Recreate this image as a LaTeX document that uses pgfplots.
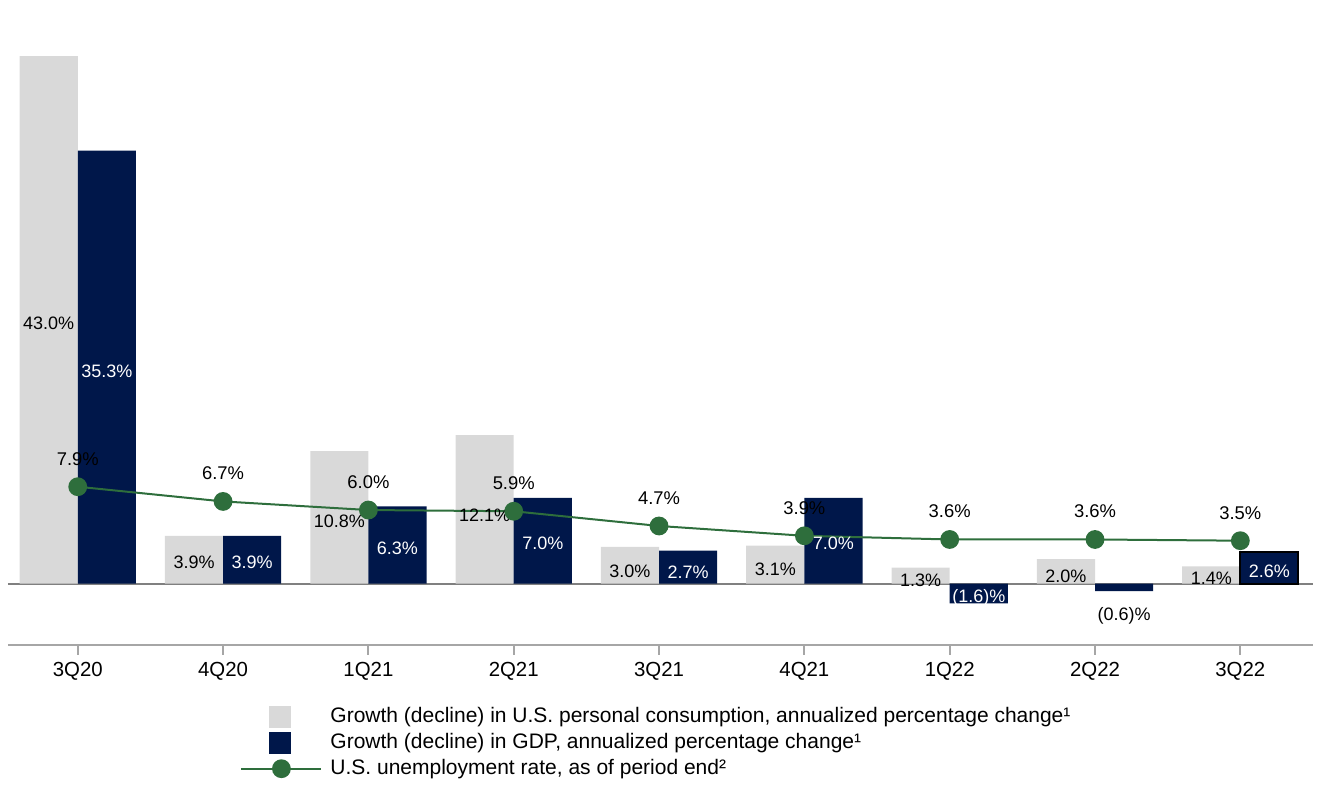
\documentclass[border=0pt]{standalone}
\usepackage{fontspec}
\setmainfont{Liberation Sans}
\usepackage{pgfplots}
\pgfplotsset{compat=1.18}
\usepackage{pgfplotstable}
\definecolor{cons}{HTML}{D9D9D9}
\definecolor{gdp}{HTML}{00174A}
\definecolor{unemp}{HTML}{2E6E3C}
\definecolor{zeroline}{HTML}{808080}
\definecolor{axisgray}{HTML}{A6A6A6}

\pgfplotstableread{
x cons gdp unemp
0 43.0 35.3 7.9
1 3.9 3.9 6.7
2 10.8 6.3 6.0
3 12.1 7.0 5.9
4 3.0 2.7 4.7
5 3.1 7.0 3.9
6 1.3 -1.6 3.6
7 2.0 -0.6 3.6
8 1.4 2.6 3.5
}\data

\begin{document}
\begin{tikzpicture}[font=\fontsize{9.5}{11.4}\selectfont]
\begin{axis}[
  scale only axis, width=652.5pt, height=322.5pt,
  xmin=-0.48, xmax=8.5, ymin=-5, ymax=47.57,
  axis x line=bottom, axis y line=none,
  axis line style={axisgray, line width=1pt, -},
  xtick={0,...,8},
  xticklabels={3Q20,4Q20,1Q21,2Q21,3Q21,4Q21,1Q22,2Q22,3Q22},
  xtick align=outside, major tick length=5pt,
  tick style={axisgray, line width=1pt},
  ytick=\empty,
  clip=false,
  x tick label style={font=\fontsize{10.2}{12}\selectfont},
  legend style={at={(rel axis cs:0.1778,-0.0946)}, anchor=north west,
    draw=none, fill=none, inner sep=0pt, row sep=2pt, column sep=4pt,
    font=\fontsize{10.5}{12.6}\selectfont,
    nodes={inner sep=0pt, text height=7.8pt, text depth=2.5pt}},
  legend cell align=left,
  lab/.style={draw=none, mark=none, forget plot, nodes near coords,
    point meta=explicit symbolic,
    every node near coord/.append style={anchor=center, inner sep=0pt,
      font=\fontsize{9}{10.8}\selectfont}},
]
\coordinate (SW) at (rel axis cs:0,0);
\coordinate (NE) at (rel axis cs:1,1);
\addplot[zeroline, line width=1pt, forget plot] coordinates {(-0.48,0) (8.5,0)};

\addplot[ybar, bar width=0.4, bar shift=0pt, fill=cons, draw=none,
  legend image code/.code={\path[draw=none, fill=none] (0pt,0pt) -- (40pt,0pt);
    \fill[cons] (14pt,-5.5pt) rectangle (25pt,5.5pt);}]
  table[x expr=\thisrow{x}-0.2, y=cons] {\data};
\addplot[ybar, bar width=0.4, bar shift=0pt, fill=gdp, draw=none,
  legend image code/.code={\path[draw=none, fill=none] (0pt,0pt) -- (40pt,0pt);
    \fill[gdp] (14pt,-5.5pt) rectangle (25pt,5.5pt);}]
  table[x expr=\thisrow{x}+0.2, y=gdp] {\data};
\addplot[ybar, bar width=0.4, bar shift=0pt, fill=gdp, draw=black, line width=1pt, forget plot]
  coordinates {(8.2,2.6)};

\addplot[lab, every node near coord/.append style={text=black}] coordinates {
  (-0.2,21.2) [43.0\%] (0.8,1.7) [3.9\%] (1.8,5.1) [10.8\%] (2.8,5.6) [12.1\%]
  (3.8,1.03) [3.0\%] (4.8,1.2) [3.1\%] (5.8,0.3) [1.3\%] (6.8,0.6) [2.0\%] (7.8,0.4) [1.4\%]};
\addplot[lab, every node near coord/.append style={text=white}] coordinates {
  (0.2,17.3) [35.3\%] (1.2,1.7) [3.9\%] (2.2,2.9) [6.3\%] (3.2,3.25) [7.0\%]
  (4.2,0.95) [2.7\%] (5.2,3.3) [7.0\%] (6.2,-1.17) [(1.6)\%] (8.2,1.03) [2.6\%]};
\addplot[lab, every node near coord/.append style={text=black}] coordinates {
  (7.2,-2.6) [(0.6)\%]};

\addplot[unemp, line width=1pt, mark=*, mark size=4.2pt,
  mark options={fill=unemp, draw=unemp},
  legend image code/.code={\draw[unemp, line width=1pt] (0pt,0pt) -- (40pt,0pt);
    \fill[unemp] (20pt,0pt) circle (4.2pt);}]
  table[x=x, y=unemp] {\data};

\addplot[lab, every node near coord/.append style={text=black, yshift=14pt,
    font=\fontsize{9.2}{11}\selectfont}] coordinates {
  (0,7.9) [7.9\%] (1,6.7) [6.7\%] (2,6.0) [6.0\%] (3,5.9) [5.9\%] (4,4.7) [4.7\%]
  (5,3.9) [3.9\%] (6,3.6) [3.6\%] (7,3.6) [3.6\%] (8,3.5) [3.5\%]};

\legend{{Growth (decline) in U.S. personal consumption, annualized percentage change¹},
  {Growth (decline) in GDP, annualized percentage change¹},
  {U.S. unemployment rate, as of period end²}}
\end{axis}
\pgfresetboundingbox
\path ([shift={(-4pt,-77.5pt)}]SW) rectangle ([shift={(3.5pt,0pt)}]NE);
\end{tikzpicture}
\end{document}
